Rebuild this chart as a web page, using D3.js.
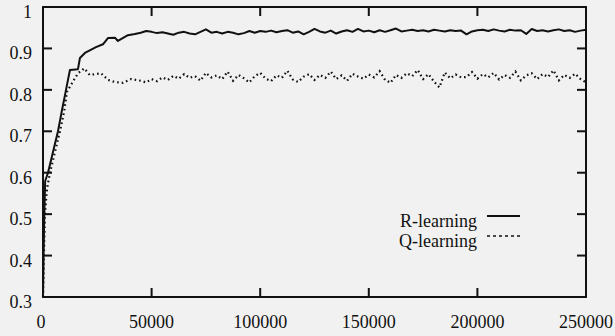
<!DOCTYPE html>
<html>
<head>
<meta charset="utf-8">
<script src="https://cdn.jsdelivr.net/npm/d3@7"></script>
<style>
  html, body { margin: 0; padding: 0; background: #f1f1f1; }
  svg { display: block; }
</style>
</head>
<body>
<div id="chart"></div>
<script>
// tick labels
const xTicks = [0, 50000, 100000, 150000, 200000, 250000];
const yTicks = [0.3, 0.4, 0.5, 0.6, 0.7, 0.8, 0.9, 1];

const rEarly = [[0, 0.30], [500, 0.48], [1000, 0.58], [2300, 0.60], [4600, 0.65], [6900, 0.70],
  [8700, 0.75], [10600, 0.80], [12400, 0.848], [16100, 0.85], [17000, 0.877], [19300, 0.889],
  [24400, 0.903], [27600, 0.91], [29900, 0.925], [33100, 0.926], [34500, 0.918], [39100, 0.932],
  [42300, 0.935]];
const qEarly = [[0, 0.30], [400, 0.40], [900, 0.50], [1800, 0.56], [3200, 0.60], [5500, 0.65],
  [7800, 0.70], [9800, 0.75], [11000, 0.795], [13800, 0.82], [16100, 0.84], [19000, 0.852],
  [21500, 0.836], [26700, 0.84], [30000, 0.824], [33000, 0.819], [36800, 0.817], [40500, 0.826]];

// plateau, one reading every 2500 steps from 45000 to 250000
const plateauStart = 45000;
const plateauStep = 2500;
const rPlateau = [0.938, 0.942, 0.940, 0.937, 0.939, 0.936, 0.933, 0.938, 0.940, 0.936,
  0.934, 0.940, 0.946, 0.938, 0.940, 0.936, 0.940, 0.938, 0.934, 0.937,
  0.942, 0.938, 0.942, 0.940, 0.943, 0.939, 0.942, 0.944, 0.938, 0.941,
  0.934, 0.940, 0.947, 0.941, 0.938, 0.943, 0.936, 0.941, 0.944, 0.940,
  0.947, 0.941, 0.943, 0.939, 0.944, 0.940, 0.944, 0.948, 0.941, 0.943,
  0.945, 0.942, 0.944, 0.941, 0.945, 0.943, 0.941, 0.944, 0.942, 0.943,
  0.934, 0.941, 0.944, 0.945, 0.942, 0.946, 0.943, 0.941, 0.945, 0.943,
  0.944, 0.935, 0.947, 0.942, 0.944, 0.941, 0.944, 0.946, 0.942, 0.944,
  0.940, 0.943, 0.945];
const qPlateau = [0.822, 0.818, 0.826, 0.821, 0.830, 0.824, 0.834, 0.827, 0.838, 0.829,
  0.833, 0.822, 0.841, 0.830, 0.835, 0.826, 0.844, 0.822, 0.836, 0.828,
  0.818, 0.833, 0.841, 0.827, 0.821, 0.835, 0.829, 0.846, 0.825, 0.819,
  0.832, 0.838, 0.824, 0.836, 0.829, 0.844, 0.826, 0.835, 0.822, 0.839,
  0.832, 0.827, 0.837, 0.830, 0.845, 0.824, 0.817, 0.836, 0.829, 0.840,
  0.833, 0.848, 0.826, 0.838, 0.820, 0.806, 0.842, 0.828, 0.837, 0.830,
  0.831, 0.843, 0.827, 0.838, 0.830, 0.841, 0.825, 0.836, 0.829, 0.844,
  0.823, 0.835, 0.840, 0.826, 0.838, 0.831, 0.847, 0.823, 0.836, 0.829,
  0.839, 0.826, 0.818];

const seriesNames = ['R-learning', 'Q-learning'];

const width = 615, height = 336;
const margin = { top: 7, right: 29, bottom: 39, left: 43 };
const serif = "'Liberation Serif', 'Times New Roman', Tinos, 'DejaVu Serif', serif";

const svg = d3.select('#chart').append('svg')
  .attr('width', width)
  .attr('height', height);

const x = d3.scaleLinear().domain([0, 250000]).range([margin.left, width - margin.right]);
const y = d3.scaleLinear().domain([0.3, 1]).range([height - margin.bottom, margin.top]);

function toPoints(early, plateau) {
  return early.concat(plateau.map((v, i) => [plateauStart + i * plateauStep, v]));
}
const rData = toPoints(rEarly, rPlateau);
const qData = toPoints(qEarly, qPlateau);

const line = d3.line().x(d => x(d[0])).y(d => y(d[1]));

// curves
svg.append('path')
  .datum(qData)
  .attr('d', line)
  .attr('fill', 'none')
  .attr('stroke', '#111')
  .attr('stroke-width', 2.2)
  .attr('stroke-dasharray', '1.6,3');

svg.append('path')
  .datum(rData)
  .attr('d', line)
  .attr('fill', 'none')
  .attr('stroke', '#111')
  .attr('stroke-width', 2)
  .attr('stroke-linejoin', 'round');

// frame with inward ticks on all four sides
const tickLen = 9;
const frame = svg.append('g').attr('stroke', '#111').attr('stroke-width', 2);
frame.append('rect')
  .attr('x', x(0)).attr('y', y(1))
  .attr('width', x(250000) - x(0)).attr('height', y(0.3) - y(1))
  .attr('fill', 'none');

const xInner = xTicks.slice(1, -1);
frame.selectAll('.xb').data(xInner).join('line')
  .attr('class', 'xb')
  .attr('x1', d => x(d)).attr('x2', d => x(d))
  .attr('y1', y(0.3)).attr('y2', y(0.3) - tickLen);
frame.selectAll('.xt').data(xInner).join('line')
  .attr('class', 'xt')
  .attr('x1', d => x(d)).attr('x2', d => x(d))
  .attr('y1', y(1)).attr('y2', y(1) + tickLen);

const yInner = yTicks.slice(1, -1);
frame.selectAll('.yl').data(yInner).join('line')
  .attr('class', 'yl')
  .attr('x1', x(0)).attr('x2', x(0) + tickLen)
  .attr('y1', d => y(d)).attr('y2', d => y(d));
frame.selectAll('.yr').data(yInner).join('line')
  .attr('class', 'yr')
  .attr('x1', x(250000)).attr('x2', x(250000) - tickLen)
  .attr('y1', d => y(d)).attr('y2', d => y(d));

// tick labels
svg.selectAll('.xlab').data(xTicks).join('text')
  .attr('class', 'xlab')
  .attr('x', d => x(d) - (d === 0 ? 2 : 0))
  .attr('y', 328)
  .attr('text-anchor', 'middle')
  .attr('font-family', serif)
  .attr('font-size', 18)
  .attr('fill', '#111')
  .text(d => d);

svg.selectAll('.ylab').data(yTicks).join('text')
  .attr('class', 'ylab')
  .attr('x', 32)
  .attr('y', d => y(d) + 11)
  .attr('text-anchor', 'end')
  .attr('font-family', serif)
  .attr('font-size', 18)
  .attr('fill', '#111')
  .text(d => d);

// legend
const legend = svg.append('g');
seriesNames.forEach((name, i) => {
  const ly = 227 + i * 20;
  legend.append('text')
    .attr('x', 477).attr('y', ly)
    .attr('text-anchor', 'end')
    .attr('font-family', serif)
    .attr('font-size', 18)
    .attr('fill', '#111')
    .text(name);
  legend.append('line')
    .attr('x1', 487).attr('x2', 520)
    .attr('y1', ly - 11).attr('y2', ly - 11)
    .attr('stroke', '#111')
    .attr('stroke-width', i === 0 ? 2 : 1.6)
    .attr('stroke-dasharray', i === 0 ? null : '3,3');
});
</script>
</body>
</html>
